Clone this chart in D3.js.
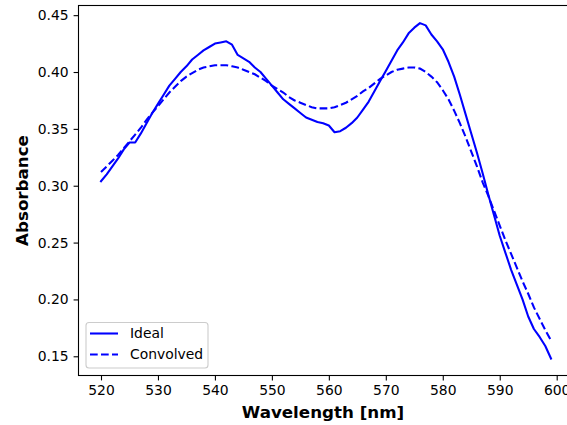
<!DOCTYPE html>
<html>
<head>
<meta charset="utf-8">
<script src="https://cdn.jsdelivr.net/npm/d3@7"></script>
<style>
  html, body { margin: 0; padding: 0; background: #fff; }
  svg { display: block; }
  text { font-family: "DejaVu Sans", sans-serif; }
</style>
</head>
<body>
<svg id="chart" width="567" height="425"></svg>
<script>
const wavelengths = d3.range(520, 600); // 520..599 nm
const ideal = [
  0.304, 0.310, 0.317, 0.324, 0.332, 0.338, 0.338, 0.346, 0.355, 0.364,
  0.372, 0.380, 0.388, 0.394, 0.400, 0.405, 0.411, 0.415, 0.419, 0.422,
  0.425, 0.426, 0.427, 0.424, 0.415, 0.412, 0.409, 0.404, 0.400, 0.394,
  0.388, 0.382, 0.376, 0.372, 0.368, 0.364, 0.360, 0.358, 0.356, 0.355,
  0.353, 0.347, 0.348, 0.351, 0.355, 0.360, 0.367, 0.374, 0.383, 0.392,
  0.401, 0.410, 0.419, 0.426, 0.434, 0.439, 0.443, 0.441, 0.433, 0.427,
  0.420, 0.409, 0.396, 0.380, 0.363, 0.346, 0.329, 0.311, 0.292, 0.274,
  0.256, 0.241, 0.226, 0.213, 0.200, 0.185, 0.174, 0.167, 0.159, 0.148
];
const convolved = [
  0.312, 0.317, 0.322, 0.327, 0.333, 0.339, 0.345, 0.351, 0.358, 0.364,
  0.370, 0.376, 0.382, 0.387, 0.392, 0.396, 0.399, 0.402, 0.404, 0.405,
  0.406, 0.406, 0.406, 0.405, 0.404, 0.402, 0.400, 0.398, 0.395, 0.392,
  0.388, 0.385, 0.382, 0.378, 0.375, 0.373, 0.371, 0.369, 0.368, 0.368,
  0.368, 0.369, 0.371, 0.373, 0.376, 0.379, 0.383, 0.386, 0.390, 0.394,
  0.397, 0.400, 0.402, 0.403, 0.404, 0.404, 0.403, 0.400, 0.396, 0.391,
  0.384, 0.376, 0.366, 0.355, 0.343, 0.330, 0.317, 0.303, 0.291, 0.278,
  0.265, 0.252, 0.240, 0.228, 0.216, 0.205, 0.193, 0.183, 0.173, 0.164
];
const xTicks = [520, 530, 540, 550, 560, 570, 580, 590, 600];
const yTicks = [0.15, 0.20, 0.25, 0.30, 0.35, 0.40, 0.45];
const seriesNames = ["Ideal", "Convolved"];
const xLabel = "Wavelength [nm]";
const yLabel = "Absorbance";

(function () {
const svg = d3.select("#chart");
const mLeft = 78.5, mRight = 573.5, mTop = 5.5, mBottom = 375.5;

const x = d3.scaleLinear().domain([516.05, 602.95]).range([mLeft, mRight]);
const y = d3.scaleLinear().domain([0.1331, 0.4585]).range([mBottom, mTop]);

const line = d3.line().x((d, i) => x(wavelengths[i])).y(d => y(d));

const plot = svg.append("g");
plot.append("path").datum(ideal)
  .attr("d", line).attr("fill", "none").attr("stroke", "#0000ff")
  .attr("stroke-width", 2.08).attr("stroke-linejoin", "round").attr("stroke-linecap", "square");
plot.append("path").datum(convolved)
  .attr("d", line).attr("fill", "none").attr("stroke", "#0000ff")
  .attr("stroke-width", 2.08).attr("stroke-dasharray", "7.7,3.3");

// axes
const xAxis = d3.axisBottom(x).tickValues(xTicks).tickFormat(d3.format("d")).tickSize(4.9).tickPadding(4.9);
const yAxis = d3.axisLeft(y).tickValues(yTicks).tickFormat(d3.format(".2f")).tickSize(4.9).tickPadding(4.9);

const gx = svg.append("g").attr("transform", `translate(0,${mBottom})`).call(xAxis);
const gy = svg.append("g").attr("transform", `translate(${mLeft},0)`).call(yAxis);
[gx, gy].forEach(g => {
  g.select(".domain").remove();
  g.selectAll(".tick line").attr("stroke", "#000").attr("stroke-width", 1.1);
  g.selectAll(".tick text").attr("fill", "#000").style("font-size", "13.9px").style("font-family", "DejaVu Sans");
});

// spines
svg.append("rect").attr("x", mLeft).attr("y", mTop).attr("width", mRight - mLeft).attr("height", mBottom - mTop)
  .attr("fill", "none").attr("stroke", "#000").attr("stroke-width", 1.1);

// labels
svg.append("text").attr("x", (mLeft + mRight) / 2 - 3).attr("y", 418)
  .attr("text-anchor", "middle").style("font-size", "16.7px").style("font-weight", "bold").text(xLabel);
svg.append("text").attr("transform", `translate(28,${(mTop + mBottom) / 2}) rotate(-90)`)
  .attr("text-anchor", "middle").style("font-size", "16.7px").style("font-weight", "bold").text(yLabel);

// legend
const lg = svg.append("g");
lg.append("rect").attr("x", 86).attr("y", 322.5).attr("width", 122).attr("height", 45.5)
  .attr("rx", 3).attr("fill", "#fff").attr("fill-opacity", 0.8).attr("stroke", "#cccccc").attr("stroke-width", 1.1);
const rows = [{ name: seriesNames[0], dash: null, yy: 333.5 }, { name: seriesNames[1], dash: "7.7,3.3", yy: 354.5 }];
rows.forEach(r => {
  const l = lg.append("line").attr("x1", 90).attr("x2", 118).attr("y1", r.yy).attr("y2", r.yy)
    .attr("stroke", "#0000ff").attr("stroke-width", 2.08);
  if (r.dash) l.attr("stroke-dasharray", r.dash);
  lg.append("text").attr("x", 130).attr("y", r.yy).attr("dy", "0.35em")
    .style("font-size", "13.9px").attr("fill", "#000").text(r.name);
});
})();
</script>
</body>
</html>
